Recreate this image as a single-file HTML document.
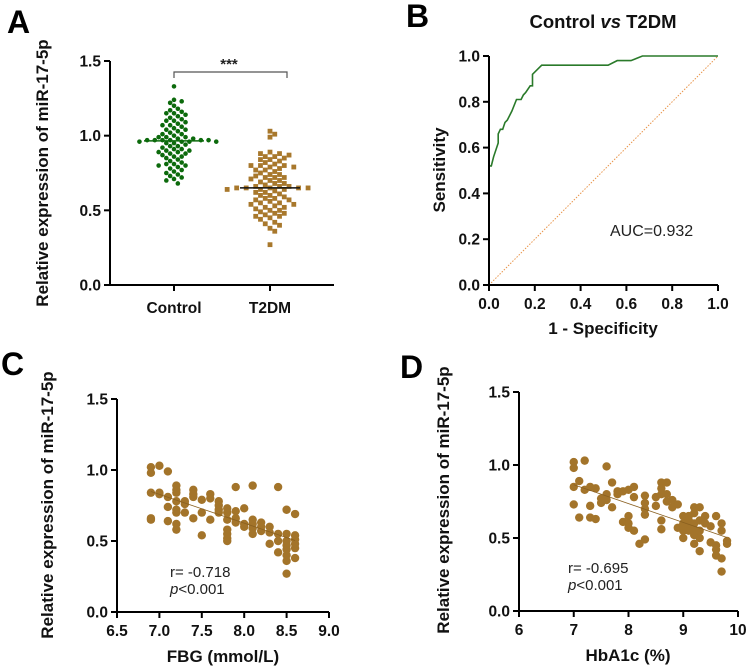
<!DOCTYPE html>
<html><head><meta charset="utf-8"><style>
body{margin:0;background:#fff;}
svg{display:block;font-family:"Liberation Sans",Arial,sans-serif;}
.tk{font-size:15.5px;font-weight:bold;fill:#111;}
.ttl{font-size:17px;font-weight:bold;fill:#111;}
.pl{font-size:32px;font-weight:bold;fill:#000;}
.ann{font-size:15px;fill:#222;}
</style></head><body>
<svg id="fig" width="750" height="672" viewBox="0 0 750 672" xmlns="http://www.w3.org/2000/svg"></svg>
<script>
// Panel A data
const groupNames = ["Control","T2DM"];
const controlValues = [1.33,1.24,1.23,1.22,1.20,1.18,1.17,1.16,1.15,1.15,1.14,1.13,1.12,1.11,1.10,1.10,1.08,1.07,1.07,1.06,1.05,1.04,1.03,1.02,1.01,1.00,0.99,0.99,0.98,0.98,0.97,0.97,0.97,0.97,0.97,0.97,0.96,0.96,0.96,0.96,0.95,0.95,0.94,0.93,0.92,0.91,0.90,0.90,0.89,0.89,0.88,0.87,0.86,0.85,0.84,0.83,0.82,0.81,0.81,0.80,0.80,0.79,0.78,0.77,0.76,0.75,0.74,0.73,0.72,0.71,0.70,0.68,1.09,1.04,1.01,0.99,0.93,0.91,0.88,0.86];
const t2dmValues = [1.03,1.01,0.99,0.89,0.88,0.88,0.87,0.86,0.86,0.85,0.84,0.83,0.82,0.81,0.80,0.80,0.80,0.79,0.78,0.77,0.77,0.76,0.75,0.74,0.73,0.72,0.72,0.72,0.71,0.70,0.69,0.68,0.67,0.66,0.66,0.66,0.65,0.65,0.65,0.65,0.65,0.64,0.64,0.64,0.63,0.62,0.61,0.60,0.60,0.59,0.58,0.57,0.57,0.56,0.55,0.55,0.54,0.53,0.52,0.52,0.51,0.50,0.49,0.48,0.48,0.47,0.46,0.46,0.45,0.44,0.42,0.41,0.40,0.38,0.36,0.27,0.84,0.79,0.74,0.70,0.68,0.62,0.58,0.54,0.50];
const yTicksA = [0.0,0.5,1.0,1.5];
// Panel B data
const rocFpr = [0,0,0.01,0.02,0.04,0.04,0.05,0.06,0.07,0.08,0.10,0.12,0.14,0.15,0.16,0.18,0.19,0.19,0.23,0.52,0.56,0.62,0.67,1];
const rocTpr = [0,0.52,0.52,0.56,0.62,0.66,0.68,0.68,0.71,0.72,0.76,0.81,0.81,0.83,0.84,0.87,0.87,0.92,0.96,0.96,0.98,0.98,1,1];
const rocTicks = [0,0.2,0.4,0.6,0.8,1.0];
// Panel C data
const fbgX = [6.9,6.9,6.9,6.9,6.9,7.0,7.0,7.0,7.1,7.1,7.1,7.1,7.2,7.2,7.2,7.2,7.2,7.2,7.2,7.2,7.3,7.3,7.3,7.4,7.4,7.4,7.4,7.5,7.5,7.5,7.6,7.6,7.6,7.7,7.7,7.7,7.7,7.8,7.8,7.8,7.8,7.8,7.8,7.8,7.9,7.9,7.9,7.9,8.0,8.0,8.0,8.1,8.1,8.1,8.1,8.1,8.2,8.2,8.2,8.3,8.3,8.3,8.4,8.4,8.4,8.4,8.5,8.5,8.5,8.5,8.5,8.5,8.5,8.5,8.6,8.6,8.6,8.6,8.6,8.6];
const fbgY = [1.02,0.98,0.84,0.66,0.65,1.03,0.84,0.83,0.99,0.81,0.74,0.64,0.89,0.86,0.84,0.78,0.72,0.70,0.62,0.58,0.78,0.76,0.70,0.86,0.83,0.81,0.66,0.79,0.70,0.54,0.83,0.80,0.65,0.78,0.75,0.72,0.70,0.73,0.70,0.65,0.58,0.55,0.52,0.50,0.88,0.71,0.66,0.63,0.73,0.62,0.60,0.89,0.65,0.62,0.59,0.55,0.63,0.60,0.57,0.60,0.56,0.48,0.88,0.55,0.50,0.42,0.72,0.55,0.50,0.47,0.44,0.40,0.36,0.27,0.69,0.54,0.51,0.48,0.45,0.38];
const fbgTicks = [6.5,7.0,7.5,8.0,8.5,9.0];
// Panel D data
const hbaX = [7.0,7.0,7.0,7.0,7.1,7.1,7.2,7.2,7.3,7.3,7.3,7.4,7.4,7.5,7.5,7.6,7.6,7.6,7.7,7.7,7.8,7.8,7.9,7.9,8.0,8.0,8.0,8.0,8.1,8.1,8.1,8.2,8.3,8.3,8.3,8.3,8.3,8.5,8.5,8.6,8.6,8.6,8.6,8.6,8.7,8.7,8.7,8.8,8.8,8.9,8.9,9.0,9.0,9.0,9.0,9.1,9.1,9.1,9.1,9.2,9.2,9.2,9.2,9.2,9.2,9.3,9.3,9.3,9.3,9.3,9.4,9.4,9.5,9.5,9.6,9.6,9.6,9.6,9.7,9.7,9.7,9.7,9.8,9.8];
const hbaY = [1.02,0.98,0.85,0.73,0.89,0.64,1.03,0.83,0.85,0.72,0.64,0.84,0.63,0.77,0.74,0.99,0.80,0.76,0.88,0.71,0.82,0.80,0.82,0.61,0.83,0.65,0.60,0.57,0.85,0.78,0.55,0.46,0.79,0.74,0.70,0.66,0.49,0.78,0.72,0.88,0.84,0.80,0.62,0.56,0.88,0.80,0.75,0.76,0.71,0.73,0.57,0.65,0.60,0.55,0.50,0.65,0.62,0.58,0.55,0.71,0.67,0.60,0.56,0.52,0.46,0.71,0.62,0.55,0.50,0.41,0.65,0.60,0.58,0.47,0.65,0.45,0.42,0.38,0.60,0.55,0.36,0.27,0.48,0.46];
const hbaTicks = [6,7,8,9,10];
const corrTicks = [0.0,0.5,1.0,1.5];

const svg = document.getElementById('fig');
const NS = 'http://www.w3.org/2000/svg';
function mk(tag, attrs, parent){ const e=document.createElementNS(NS,tag); for(const k in attrs) e.setAttribute(k,attrs[k]); (parent||svg).appendChild(e); return e; }
function txt(s, attrs, parent){ const e=mk('text',attrs,parent); e.textContent=s; return e; }
function lin(d0,d1,r0,r1){ return v => r0+(v-d0)/(d1-d0)*(r1-r0); }

function axes(g, x0, x1, y0, y1, yS, yTicks, yFmt, xS, xTicks, xFmt){
  const ya=mk('line',{x1:x0,y1:y0,x2:x0,y2:y1,stroke:'#000','stroke-width':2},g);
   
  const xa=mk('line',{x1:x0-1,y1:y0,x2:x1,y2:y0,stroke:'#000','stroke-width':2},g);
   
  yTicks.forEach(t=>{ const y=yS(t); mk('line',{x1:x0-6,y1:y,x2:x0,y2:y,stroke:'#000','stroke-width':2},g);
    const l=txt(yFmt(t),{x:x0-9,y:y+5.5,'text-anchor':'end',class:'tk'},g);
      });
  if(xTicks) xTicks.forEach(t=>{ const x=xS(t); mk('line',{x1:x,y1:y0,x2:x,y2:y0+6,stroke:'#000','stroke-width':2},g);
    const l=txt(xFmt(t),{x:x,y:y0+24,'text-anchor':'middle',class:'tk'},g);
      });
}

// ---------- Panel A ----------
(function(){
  const g=mk('g',{});  
  const lab=txt('A',{x:7,y:33,class:'pl'},g);  
  const yS=lin(0,1.5,285,61);
  const cx=[174,270];
  axes(g,110,334,285,61,yS,yTicksA,v=>v.toFixed(1),null,null,null);
  groupNames.forEach((n,i)=>{ mk('line',{x1:cx[i],y1:285,x2:cx[i],y2:291,stroke:'#000','stroke-width':2},g);
    const l=txt(n,{x:cx[i],y:313,'text-anchor':'middle',class:'tk'},g);   });
  const yl=txt('Relative expression of miR-17-5p',{transform:'translate(48,173) rotate(-90)','text-anchor':'middle',class:'ttl'},g);
   
  function swarm(vals,center,d,sx){
    const placed=[]; const out=[];
    const sorted=vals.slice().sort((a,b)=>b-a);
    sorted.forEach(v=>{ const y=yS(v);
      for(let k=0;k<60;k++){ const off=(k%2?1:-1)*Math.ceil(k/2)*d*sx; const x=center+off;
        if(placed.every(p=>(p[0]-x)**2+(p[1]-y)**2>=d*d*0.95)){ placed.push([x,y]); out.push([x,y]); break; } } });
    return out;
  }
  swarm(controlValues,cx[0],4.8,0.8).forEach(p=>{ const c=mk('circle',{cx:p[0],cy:p[1],r:2.3,fill:'#0c6a0c'},g);
      });
  swarm(t2dmValues,cx[1],5.6,0.85).forEach(p=>{ const c=mk('rect',{x:p[0]-2.4,y:p[1]-2.4,width:4.8,height:4.8,fill:'#a8782c'},g);
      });
  const med=a=>{const s=a.slice().sort((x,y)=>x-y);const m=s.length/2;return s.length%2?s[Math.floor(m)]:(s[m-1]+s[m])/2;};
  const m1=mk('line',{x1:cx[0]-30,x2:cx[0]+30,y1:yS(med(controlValues)),y2:yS(med(controlValues)),stroke:'#0c6a0c','stroke-width':1.5},g);
   
  const m2=mk('line',{x1:cx[1]-30,x2:cx[1]+30,y1:yS(med(t2dmValues)),y2:yS(med(t2dmValues)),stroke:'#111','stroke-width':1.5},g);
   
  const br=mk('path',{d:'M174,78 V72 H287 V78',fill:'none',stroke:'#555','stroke-width':1.2},g);
   
  const st=txt('***',{x:229,y:69,'text-anchor':'middle',style:'font-size:15px;font-weight:bold;fill:#222'},g);
   
})();

// ---------- Panel B ----------
(function(){
  const g=mk('g',{});  
  const lab=txt('B',{x:406,y:27,class:'pl'},g);  
  const t=mk('text',{x:603,y:28,'text-anchor':'middle',style:'font-size:18.5px;font-weight:bold;fill:#111'},g);
  t.innerHTML='Control <tspan font-style="italic">vs</tspan> T2DM';
   
  const xS=lin(0,1,489,718), yS=lin(0,1,285,56);
  const dg=mk('line',{x1:xS(0),y1:yS(0),x2:xS(1),y2:yS(1),stroke:'#e8944a','stroke-width':1,'stroke-dasharray':'1.5,1.5'},g);
   
  const pts=rocFpr.map((f,i)=>xS(f).toFixed(1)+','+yS(rocTpr[i]).toFixed(1)).join(' ');
  const pl=mk('polyline',{points:pts,fill:'none',stroke:'#2a7a2a','stroke-width':1.6},g);
   
  axes(g,489,718,285,56,yS,rocTicks,v=>v.toFixed(1),xS,rocTicks,v=>v.toFixed(1));
  const yl=txt('Sensitivity',{transform:'translate(445,170) rotate(-90)','text-anchor':'middle',class:'ttl'},g);
   
  const xl=txt('1 - Specificity',{x:603,y:334,'text-anchor':'middle',class:'ttl'},g);
   
  const a=txt('AUC=0.932',{x:610,y:236,style:'font-size:16px;fill:#222'},g);
   
})();

// ---------- Panels C & D ----------
function scatter(name,letter,lx,ly,xs,ys,xTicks,xFmt,xDom,x0,x1,y0,y1,ylx,yly,xTitle,xtx,rText,rx,ry){
  const g=mk('g',{});  
  const lab=txt(letter,{x:lx,y:ly,class:'pl'},g);  
  const xS=lin(xDom[0],xDom[1],x0,x1), yS=lin(0,1.5,y0,y1);
  xs.forEach((x,i)=>{ const c=mk('circle',{cx:xS(x),cy:yS(ys[i]),r:4.2,fill:'#a3742a'},g);
      });
  const n=xs.length, mx=xs.reduce((a,b)=>a+b)/n, my=ys.reduce((a,b)=>a+b)/n;
  let sxy=0,sxx=0; xs.forEach((x,i)=>{sxy+=(x-mx)*(ys[i]-my);sxx+=(x-mx)**2;});
  const b=sxy/sxx, a=my-b*mx, xa=Math.min(...xs), xb=Math.max(...xs);
  const rl=mk('line',{x1:xS(xa),y1:yS(a+b*xa),x2:xS(xb),y2:yS(a+b*xb),stroke:'#8a6020','stroke-width':0.8},g);
   
  axes(g,x0,x1,y0,y1,yS,corrTicks,v=>v.toFixed(1),xS,xTicks,xFmt);
  const yl=txt('Relative expression of miR-17-5p',{transform:`translate(${ylx},${yly}) rotate(-90)`,'text-anchor':'middle',class:'ttl'},g);
   
  const xl=txt(xTitle,{x:xtx,y:y0+50,'text-anchor':'middle',class:'ttl'},g);
   
  const r=txt(rText,{x:rx,y:ry,class:'ann'},g);  
  const p=mk('text',{x:rx,y:ry+17,class:'ann'},g); p.innerHTML='<tspan font-style="italic">p</tspan>&lt;0.001';
   
}
scatter('panel-c','C',1,375,fbgX,fbgY,fbgTicks,v=>v.toFixed(1),[6.5,9.0],117,329,612,399,53,505,'FBG (mmol/L)',223,'r= -0.718',170,577);
scatter('panel-d','D',400,378,hbaX,hbaY,hbaTicks,v=>String(v),[6,10],519,738,611,392,449,500,'HbA1c (%)',628,'r= -0.695',568,573);
</script>
</body></html>
